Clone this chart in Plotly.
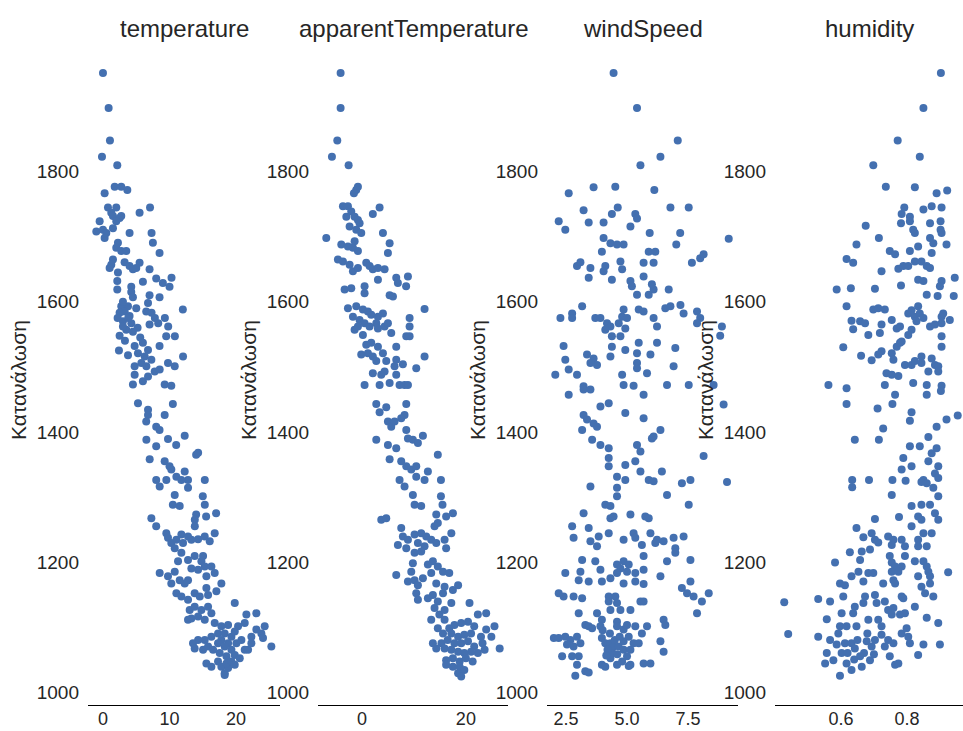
import plotly.graph_objects as go

# ---------------- data ----------------
titles = ["temperature", "apparentTemperature", "windSpeed", "humidity"]
y_label = "Κατανάλωση"
y_ticks = [1000, 1200, 1400, 1600, 1800]

temperature_pts = [
    (0.0,1952),(0.85,1898),(1.05,1848),(-0.15,1823),(2.15,1810),
    (1.76,1777),(2.75,1777),(3.66,1772),(0.25,1767),(7.07,1745),
    (0.75,1745),(2.0,1745),(1.25,1737),(5.5,1737),(1.5,1732),(2.5,1729),(2.75,1732),
    (-0.5,1724),(2.0,1724),(-1.0,1708),(0.0,1711),(0.5,1706),(1.5,1713),(4.0,1706),(7.3,1706),
    (0.25,1698),(7.5,1691),(2.25,1691),(2.0,1683),(2.75,1678),(3.5,1678),(8.5,1675),
    (1.5,1665),(1.25,1657),(3.25,1661),(4.0,1655),(5.5,1660),(5.0,1652),(1.0,1652),
    (4.5,1650),(7.0,1650),(2.25,1645),
    (8.0,1636),(10.3,1637),(9.0,1629),(10.0,1623),(6.0,1631),
    (2.15,1632),(2.15,1619),(4.25,1623),(4.25,1615),(4.5,1607),(7.0,1610),(8.5,1607),
    (2.75,1593),(3.76,1593),(3.26,1585),(2.5,1583),(4.0,1578),(3.0,1570),(4.26,1567),
    (3.5,1557),(3.0,1562),(4.5,1554),(2.2,1575),(3.8,1575),(2.5,1548),(3.3,1540),
    (5.2,1560),(5.6,1545),(3.0,1600),(2.4,1525),(5.0,1590),
    (6.77,1598),(6.5,1585),(7.3,1583),(7.8,1575),(8.3,1567),(7.0,1565),
    (9.3,1575),(9.8,1562),(9.5,1547),(10.8,1547),(8.5,1532),(12.0,1588),
    (4.76,1532),(6.0,1537),(6.77,1526),(5.26,1521),(6.27,1516),(3.76,1518),(7.27,1511),
    (5.77,1506),(6.52,1501),(4.76,1501),(12.03,1516),(9.77,1506),(10.78,1501),(7.77,1493),
    (4.76,1488),(4.5,1473),(6.0,1478),(6.77,1485),(8.52,1496),(9.27,1473),(10.27,1471),
    (5.26,1444),(6.77,1434),(6.77,1426),(6.5,1416),(9.27,1426),(10.5,1443),(8.0,1408),(8.5,1403),
    (6.52,1388),(8.0,1378),(9.77,1389),(11.0,1380),(12.28,1394),(7.02,1358),(14.0,1365),(14.3,1368),
    (9.27,1355),(10.0,1347),(10.27,1342),(11.03,1331),(12.28,1339),(12.78,1326),(11.78,1326),
    (8.0,1326),(8.52,1316),(9.52,1326),(12.78,1314),(15.3,1326),(15.0,1301),(15.3,1288),
    (10.78,1303),(10.5,1288),(11.53,1286),
    (14.0,1273),(15.5,1270),(17.0,1275),(13.8,1265),(13.8,1255),(7.27,1267),(8.0,1255),
    (9.52,1244),(9.77,1237),(10.27,1229),(11.03,1234),(11.78,1242),(12.78,1239),(12.03,1229),
    (13.28,1234),(14.29,1235),(15.29,1239),(16.04,1232),(16.79,1244),
    (10.78,1221),(11.78,1214),(11.28,1201),(10.78,1185),(9.77,1178),(8.52,1183),
    (12.78,1203),(13.78,1209),(14.79,1201),(15.29,1193),(14.29,1188),(13.28,1190),(16.29,1193),
    (16.79,1183),(15.54,1178),(15.04,1209),
    (12.78,1172),(12.28,1167),(11.53,1172),(10.27,1167),(11.03,1152),(11.78,1147),(12.78,1142),
    (13.78,1152),(14.54,1147),(15.54,1160),(15.79,1149),(17.04,1155),(17.79,1167),
    (13.03,1126),(13.78,1131),(14.79,1126),(15.79,1131),(16.29,1121),(14.29,1116),(15.29,1111),
    (12.78,1111),(13.28,1113),
    (19.8,1137),(21.55,1119),(23.05,1121),(24.3,1101),(23.05,1096),(21.3,1106),(20.3,1101),
    (25.3,1070),(23.8,1090),(24.05,1083),(22.3,1085),
    (16.79,1106),(17.79,1101),(18.8,1103),(17.29,1090),(18.29,1090),(19.3,1085),(19.8,1093),
    (17.79,1080),(18.8,1075),(20.05,1075),(20.8,1080),(21.3,1065),(19.3,1065),(18.29,1070),
    (17.29,1075),(16.29,1085),(15.29,1080),(14.29,1080),(13.53,1075),(13.78,1067),(15.04,1065),
    (15.79,1070),(16.54,1065),(17.54,1060),(18.55,1055),(19.8,1057),(20.55,1052),(21.8,1065),
    (22.3,1075),
    (15.54,1044),(16.29,1039),(17.29,1047),(17.79,1039),(18.29,1029),(18.8,1037),(18.55,1044),
    (19.3,1047),(19.8,1042),(18.29,1026),
]

apparent_pts = [
    (-4.1,1952),(-4.1,1898),(-4.74,1848),(-5.77,1823),(-2.56,1810),
    (-0.77,1777),(-1.1,1772),(-1.54,1767),(3.4,1745),(2.1,1735),
    (-3.65,1747),(-2.69,1747),(-2.05,1739),(-3.0,1731),(-1.41,1731),(-0.77,1726),(-2.37,1716),
    (-0.45,1721),(-1.09,1711),(-0.13,1706),
    (-6.86,1698),(4.04,1706),(5.33,1690),(5.0,1675),
    (-3.97,1688),(-2.69,1685),(-1.73,1683),(-0.77,1678),(-1.41,1693),
    (-4.62,1665),(-3.65,1662),(-2.37,1657),(-1.73,1647),(0.83,1660),(1.47,1655),(2.1,1650),
    (3.08,1652),(4.36,1650),(-0.77,1652),
    (6.6,1637),(6.92,1629),(8.85,1639),(8.5,1624),(3.08,1634),(0.51,1624),(0.51,1613),
    (-3.33,1619),(-2.05,1621),(5.33,1610),(5.97,1608),
    (-2.69,1590),(-1.09,1593),(0.19,1588),(1.15,1585),(1.79,1580),(3.08,1577),(4.04,1582),
    (-1.73,1577),(-0.45,1572),(0.51,1567),(1.47,1562),(2.76,1567),(-0.77,1562),(-1.41,1557),
    (0.19,1549),(3.08,1559),(4.36,1562),(5.0,1567),(5.64,1552),(9.17,1575),(9.17,1562),
    (8.53,1547),(9.17,1547),(12.05,1589),
    (0.83,1534),(1.79,1537),(3.08,1531),(-0.13,1519),(1.15,1521),(2.1,1516),(2.76,1509),
    (4.04,1521),(4.68,1509),(6.6,1531),(6.6,1511),(7.88,1504),(6.28,1501),(2.1,1490),
    (3.72,1488),(4.36,1493),(6.6,1488),(10.45,1498),(12.05,1516),(0.51,1472),(3.4,1472),
    (5.33,1475),(7.24,1472),(8.2,1472),(8.85,1472),
    (2.76,1443),(3.4,1430),(4.68,1438),(5.0,1416),(5.64,1408),(8.53,1443),(8.2,1426),
    (7.56,1421),(8.53,1403),(6.28,1416),
    (2.76,1388),(5.0,1380),(6.6,1375),(8.85,1390),(9.8,1388),(10.77,1383),(11.73,1394),(14.6,1365),
    (5.33,1358),(7.56,1355),(8.53,1347),(9.49,1342),(10.45,1347),(10.45,1331),(12.05,1326),
    (12.69,1339),(7.24,1326),(8.2,1316),
    (9.8,1303),(15.2,1326),(15.2,1301),(15.5,1288),(10.13,1288),(11.4,1286),
    (3.72,1265),(4.68,1267),(14.3,1273),(14.6,1260),(13.97,1255),(16.2,1270),(17.5,1275),
    (7.56,1252),(7.88,1239),(8.85,1234),(6.92,1226),(10.13,1242),(11.4,1244),(12.37,1239),
    (10.77,1229),(12.05,1224),(13.33,1234),(14.3,1229),(15.9,1234),(17.2,1244),(16.2,1221),
    (8.53,1221),(10.13,1214),(11.4,1216),
    (9.8,1198),(9.49,1185),(6.6,1180),(8.85,1170),(10.13,1172),(10.77,1164),(11.73,1175),
    (12.69,1196),(13.65,1201),(14.6,1193),(15.6,1185),(16.8,1183),(13.33,1183),(14.3,1167),
    (15.9,1162),(17.5,1157),(18.5,1164),
    (10.45,1152),(10.77,1142),(12.69,1144),(13.65,1149),(14.6,1139),(15.6,1152),(13.97,1129),
    (15.9,1126),(17.2,1137),(20.7,1137),(13.33,1111),(14.9,1119),(15.9,1111),
    (22.3,1119),(23.9,1121),(25.5,1101),(23.9,1096),(24.9,1085),(22.9,1085),(21.6,1101),
    (20.4,1108),(19.1,1106),(17.8,1103),(16.8,1098),(14.6,1098),(15.6,1090),(17.2,1090),
    (18.5,1085),(19.7,1088),(21.0,1090),(26.5,1067),
    (13.65,1075),(15.3,1075),(16.5,1080),(17.8,1075),(19.1,1075),(20.4,1078),(21.6,1070),
    (23.2,1075),(23.6,1065),(22.3,1060),(21.0,1062),(19.7,1060),(18.5,1062),(17.2,1065),
    (15.9,1067),(14.3,1067),(16.2,1049),(17.5,1052),(18.8,1047),(20.0,1052),(21.3,1047),
    (16.2,1042),(17.5,1039),(18.8,1039),(19.7,1034),(18.5,1029),(19.1,1024),
]

wind_pts = [
    (4.45,1952),(5.41,1898),(7.08,1848),(6.37,1823),(5.55,1810),
    (3.63,1776),(4.52,1777),(2.61,1767),(6.12,1772),
    (3.22,1741),(4.62,1745),(5.34,1735),(6.78,1745),(7.53,1745),
    (2.2,1724),(2.47,1711),(3.43,1722),(4.04,1722),(4.38,1735),(5.41,1728),(5.14,1716),
    (5.93,1706),(7.18,1706),(7.02,1688),(9.17,1697),
    (4.04,1698),(4.32,1690),(4.59,1688),(4.86,1688),
    (3.97,1677),(4.73,1662),(5.89,1677),(6.16,1677),(6.09,1660),(5.68,1660),(7.66,1660),
    (8.0,1667),(8.14,1673),
    (2.95,1655),(3.09,1661),(3.5,1652),(3.43,1637),(4.04,1647),(4.11,1655),(4.38,1634),
    (4.8,1650),(5.14,1632),(5.2,1624),(5.41,1611),(5.68,1639),(5.89,1611),(6.09,1619),
    (6.02,1627),(6.71,1619),
    (3.16,1593),(2.27,1575),(2.75,1582),(2.75,1575),(3.7,1575),(3.91,1575),(4.18,1567),
    (4.32,1562),(4.11,1557),(4.38,1547),(4.66,1567),(4.8,1577),(4.86,1588),(5.0,1575),
    (4.93,1559),(4.73,1547),(5.48,1588),(5.68,1585),(6.09,1575),(6.23,1562),(6.57,1590),
    (6.78,1593),(7.19,1595),(7.32,1582),(7.87,1585),(8.0,1575),(7.87,1567),
    (8.89,1562),(8.82,1548),
    (2.4,1532),(2.47,1511),(3.36,1519),(3.63,1513),(3.77,1503),(3.5,1506),(4.32,1516),
    (4.38,1531),(4.93,1526),(5.41,1521),(5.41,1506),(5.48,1537),(5.96,1519),(6.23,1537),
    (6.98,1529),(6.91,1501),(5.82,1490),(5.41,1498),
    (2.06,1488),(2.61,1496),(2.95,1488),(3.22,1470),(4.8,1488),(4.86,1472),(5.27,1471),
    (6.64,1472),(7.53,1472),(8.55,1472),
    (2.61,1457),(3.22,1465),(3.5,1465),(5.68,1457),(8.96,1442),
    (3.91,1439),(4.25,1444),(4.93,1429),(5.68,1421),(3.22,1426),(3.36,1419),(3.63,1413),
    (3.16,1403),(3.77,1408),(6.37,1403),(6.02,1390),(6.09,1393),
    (3.57,1388),(3.91,1380),(4.25,1375),(4.25,1360),(4.25,1347),(4.93,1349),(5.41,1380),
    (5.55,1370),(5.34,1355),(8.14,1363),(9.1,1323),
    (4.59,1331),(4.93,1326),(5.55,1339),(5.89,1326),(6.09,1324),(6.43,1339),(7.25,1321),
    (7.6,1326),(3.5,1316),(4.59,1314),(4.59,1301),(6.64,1303),(7.53,1288),(4.11,1288),(4.32,1286),
    (3.22,1275),(2.75,1255),(3.43,1252),(4.32,1267),(4.45,1270),(5.14,1273),(5.75,1270),
    (5.89,1267),(2.81,1237),(3.5,1232),(3.84,1239),(3.77,1224),(4.25,1244),(4.86,1234),
    (5.27,1244),(5.34,1237),(5.61,1226),(5.96,1244),(6.23,1234),(6.16,1229),(6.5,1232),
    (6.91,1237),(7.32,1239),(6.98,1221),(6.98,1214),(7.6,1203),(6.64,1201),(5.68,1209),
    (3.16,1203),(3.7,1201),(3.91,1188),(4.59,1196),(4.86,1201),(5.07,1196),(4.73,1190),
    (4.59,1183),(5.0,1185),(5.34,1183),(5.68,1188),(6.37,1178),(2.47,1183),(3.09,1185),
    (3.02,1172),(3.43,1170),(3.97,1170),(4.32,1175),(4.86,1167),(5.34,1170),(5.68,1166),
    (7.6,1170),(7.25,1160),(7.46,1152),(7.73,1147),(8.07,1139),(8.35,1152),(7.87,1121),
    (2.2,1152),(2.4,1147),(2.81,1147),(3.16,1144),(4.25,1147),(4.52,1147),(4.25,1139),
    (4.59,1137),(4.32,1126),(4.73,1126),(5.14,1126),(5.55,1139),(5.68,1139),(3.02,1121),
    (3.77,1121),(3.97,1111),(3.29,1103),(3.43,1101),(3.57,1098),(3.91,1101),(4.59,1108),
    (4.59,1101),(4.86,1096),(5.0,1103),(5.34,1101),(5.82,1101),(6.5,1111),(6.57,1103),
    (2.0,1083),(2.2,1083),(2.47,1085),(2.68,1080),(2.95,1085),(3.09,1075),(2.81,1070),
    (2.54,1073),(2.34,1055),(2.75,1055),(3.02,1055),(2.95,1042),(2.88,1025),(3.29,1032),
    (3.43,1030),(3.97,1083),(4.11,1075),(4.32,1075),(4.45,1070),(4.66,1070),(4.86,1078),
    (5.07,1085),(4.86,1065),(5.14,1065),(5.27,1075),(5.48,1075),(5.61,1090),(5.0,1055),
    (4.8,1047),(4.59,1042),(4.32,1052),(3.97,1042),(4.11,1039),(5.07,1040),(5.14,1042),
    (5.68,1044),(5.96,1044),(6.37,1078),(6.5,1062),
    (4.4,1060),(4.2,1065),(4.5,1080),(4.3,1090),(4.6,1058),(4.15,1056),(4.7,1085),(4.0,1095),
]

humidity_pts = [
    (0.903,1952),(0.85,1898),(0.772,1848),(0.839,1823),(0.698,1810),
    (0.736,1777),(0.824,1776),(0.89,1767),(0.922,1771),
    (0.792,1745),(0.784,1735),(0.782,1721),(0.809,1731),(0.809,1724),(0.85,1742),(0.875,1747),
    (0.905,1745),(0.87,1721),(0.902,1724),(0.675,1717),(0.715,1698),(0.819,1711),(0.824,1706),
    (0.87,1698),(0.902,1711),(0.905,1706),(0.88,1690),(0.92,1688),(0.647,1688),
    (0.748,1678),(0.764,1673),(0.809,1678),(0.834,1685),(0.875,1675),(0.617,1666),(0.637,1660),
    (0.723,1647),(0.774,1651),(0.789,1655),(0.804,1655),(0.824,1662),(0.844,1662),(0.86,1655),
    (0.87,1652),(0.945,1637),(0.587,1619),(0.63,1621),(0.703,1620),(0.782,1625),(0.834,1634),
    (0.85,1632),(0.905,1632),(0.9,1624),(0.86,1611),(0.893,1609),(0.942,1609),
    (0.617,1593),(0.632,1571),(0.658,1570),(0.673,1567),(0.637,1558),(0.698,1588),(0.713,1590),
    (0.733,1588),(0.754,1572),(0.723,1565),(0.718,1552),(0.683,1549),(0.769,1559),(0.779,1562),
    (0.804,1582),(0.814,1587),(0.824,1577),(0.834,1593),(0.839,1582),(0.85,1575),(0.829,1570),
    (0.814,1557),(0.804,1549),(0.87,1562),(0.885,1565),(0.905,1567),(0.905,1577),(0.91,1582),
    (0.93,1572),(0.905,1547),(0.905,1531),
    (0.607,1530),(0.661,1517),(0.693,1510),(0.723,1524),(0.713,1519),(0.754,1521),(0.769,1531),
    (0.779,1537),(0.784,1539),(0.759,1511),(0.794,1503),(0.814,1503),(0.824,1509),(0.844,1516),
    (0.844,1506),(0.865,1493),(0.875,1513),(0.885,1503),(0.895,1501),(0.895,1493),(0.738,1490),
    (0.754,1488),(0.774,1486),(0.562,1472),(0.617,1467),(0.733,1472),(0.819,1475),(0.86,1472),
    (0.905,1471),
    (0.617,1443),(0.711,1436),(0.756,1443),(0.764,1457),(0.86,1457),(0.903,1463),
    (0.814,1430),(0.809,1417),(0.89,1408),(0.92,1419),(0.954,1425),(0.728,1405),(0.642,1388),
    (0.715,1388),
    (0.809,1378),(0.839,1378),(0.865,1392),(0.89,1375),(0.875,1367),(0.865,1355),(0.789,1360),
    (0.784,1342),(0.814,1347),(0.895,1347),(0.885,1336),(0.895,1329),(0.85,1326),
    (0.634,1326),(0.634,1315),(0.685,1326),(0.756,1326),(0.796,1325),(0.844,1323),(0.86,1321),
    (0.754,1303),(0.88,1314),(0.895,1301),
    (0.814,1286),(0.844,1288),(0.87,1288),(0.703,1266),(0.776,1269),(0.814,1255),(0.834,1270),
    (0.844,1265),(0.885,1275),(0.895,1265),(0.647,1252),(0.693,1244),(0.668,1238),(0.703,1234),
    (0.713,1230),(0.743,1239),(0.759,1234),(0.784,1234),(0.754,1226),(0.794,1224),(0.834,1234),
    (0.85,1244),(0.875,1244),(0.834,1224),(0.86,1224),(0.627,1215),(0.663,1216),(0.688,1219),
    (0.582,1199),(0.658,1203),(0.748,1209),(0.754,1199),(0.764,1193),(0.794,1209),(0.784,1193),
    (0.754,1185),(0.774,1185),(0.824,1201),(0.85,1201),(0.86,1193),(0.865,1185),(0.87,1178),
    (0.925,1184),(0.834,1178),(0.87,1167),(0.844,1162),(0.855,1152),(0.88,1147),(0.653,1185),
    (0.632,1178),(0.683,1183),(0.698,1183),(0.668,1170),(0.597,1167),(0.612,1164),(0.728,1167),
    (0.759,1172),(0.764,1167),
    (0.428,1138),(0.531,1143),(0.567,1139),(0.607,1147),(0.642,1131),(0.673,1147),(0.668,1137),
    (0.703,1149),(0.708,1137),(0.733,1139),(0.743,1126),(0.759,1129),(0.784,1147),(0.789,1144),
    (0.824,1131),(0.637,1121),(0.602,1121),(0.557,1112),(0.597,1101),(0.617,1101),(0.647,1101),
    (0.683,1111),(0.713,1111),(0.723,1101),(0.754,1119),(0.779,1119),(0.794,1121),(0.86,1114),
    (0.895,1106),
    (0.44,1089),(0.531,1085),(0.567,1080),(0.592,1090),(0.587,1073),(0.557,1060),(0.552,1044),
    (0.577,1049),(0.602,1060),(0.612,1075),(0.632,1075),(0.642,1067),(0.617,1044),(0.632,1034),
    (0.658,1055),(0.663,1039),(0.678,1078),(0.693,1070),(0.688,1049),(0.703,1080),(0.723,1088),
    (0.733,1070),(0.743,1080),(0.759,1075),(0.748,1055),(0.764,1042),(0.774,1044),(0.784,1090),
    (0.799,1098),(0.804,1085),(0.809,1075),(0.85,1073),(0.834,1057),(0.9,1073),(0.597,1025),
    (0.62,1060),(0.65,1080),(0.67,1060),(0.70,1058),(0.64,1050),(0.68,1090),
]

x_tickvals = [[0, 10, 20], [0, 20], [2.5, 5.0, 7.5], [0.6, 0.8]]
x_ticktext = [["0", "10", "20"], ["0", "20"], ["2.5", "5.0", "7.5"], ["0.6", "0.8"]]
x_ranges = [[-2.25, 26.6], [-8.45, 28.1], [1.72, 9.55], [0.40, 0.97]]

# ---------------- styling ----------------
W, H = 963, 731
FONT = "Liberation Sans, Arial, sans-serif"
TXT = "#262626"
BLUE = "#4470B0"
x_px = [(88, 280), (318, 508), (547, 738), (775, 963)]
ydom = [(731 - 705) / 731, (731 - 43) / 731]

fig = go.Figure()
panels = [temperature_pts, apparent_pts, wind_pts, humidity_pts]
for i, pts in enumerate(panels):
    xs = [p[0] for p in pts]
    ys = [p[1] for p in pts]
    sfx = "" if i == 0 else str(i + 1)
    fig.add_trace(go.Scatter(
        x=xs, y=ys, mode="markers", xaxis="x" + sfx, yaxis="y" + sfx,
        marker=dict(size=8, color=BLUE, line=dict(width=0)),
        showlegend=False, hoverinfo="skip"))
    dom = [x_px[i][0] / W, min(x_px[i][1] / W, 1.0)]
    fig.layout["xaxis" + sfx] = dict(
        domain=dom, range=x_ranges[i], anchor="y" + sfx,
        tickvals=x_tickvals[i], ticktext=x_ticktext[i],
        showline=True, linecolor="black", linewidth=1.3,
        showgrid=False, zeroline=False, ticks="", automargin=False,
        ticklabelstandoff=-3,
        tickfont=dict(family=FONT, size=18, color=TXT))
    fig.layout["yaxis" + sfx] = dict(
        domain=ydom, range=[980, 1998], anchor="x" + sfx,
        tickvals=y_ticks, ticktext=[str(v) for v in y_ticks],
        showline=False, showgrid=False, zeroline=False, ticks="",
        automargin=False, ticklabelstandoff=8,
        tickfont=dict(family=FONT, size=19, color=TXT))
    cx = (x_px[i][0] + x_px[i][1]) / 2 / W
    fig.add_annotation(text=titles[i], x=cx, y=(H - 28) / H, xref="paper", yref="paper",
                       showarrow=False, xanchor="center", yanchor="middle",
                       font=dict(family=FONT, size=24, color=TXT))
    fig.add_annotation(text=y_label, x=(x_px[i][0] - 70) / W, y=(H - 380) / H,
                       xref="paper", yref="paper", showarrow=False, textangle=-90,
                       xanchor="center", yanchor="middle",
                       font=dict(family=FONT, size=21, color=TXT))

fig.update_layout(
    width=W, height=H, template="none",
    margin=dict(l=0, r=0, t=0, b=0),
    paper_bgcolor="white", plot_bgcolor="white",
    font=dict(family=FONT, color=TXT),
)

fig.write_html("out.html")
